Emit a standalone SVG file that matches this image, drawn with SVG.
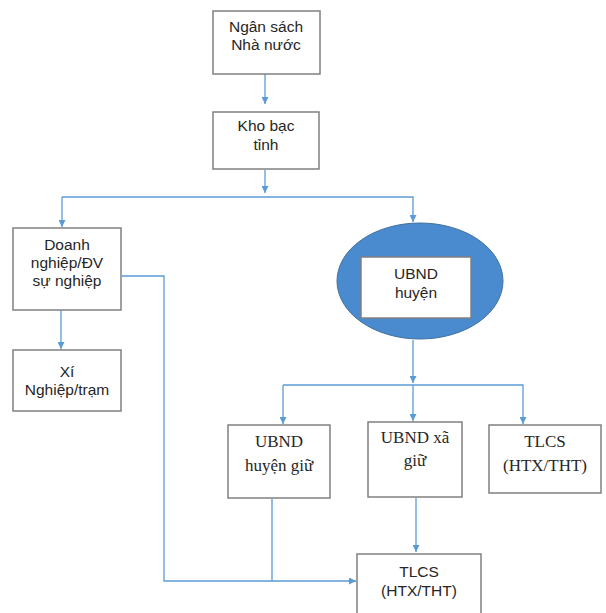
<svg xmlns="http://www.w3.org/2000/svg" width="606" height="613" viewBox="0 0 606 613">
<defs>
<style>
.box{fill:#fff;stroke:#808080;stroke-width:1.5}
.ln{fill:none;stroke:#5b9bd5;stroke-width:1.3}
.sans{font-family:"Liberation Sans",Arial,sans-serif;font-size:15.5px;fill:#262626;text-anchor:middle}
.serif{font-family:"Liberation Serif","Times New Roman",serif;font-size:17px;fill:#262626;text-anchor:middle}
</style>
<marker id="ah" viewBox="0 0 10 10" refX="10" refY="5" markerWidth="7" markerHeight="7" markerUnits="userSpaceOnUse" orient="auto">
<path d="M0,0 L10,5 L0,10 z" fill="#5b9bd5"/>
</marker>
</defs>
<rect width="606" height="613" fill="#fff"/>
<g id="connectors">
<line class="ln" x1="265" y1="74" x2="265" y2="104" marker-end="url(#ah)"/>
<line class="ln" x1="265" y1="170" x2="265" y2="193" marker-end="url(#ah)"/>
<polyline class="ln" points="62,197 413,197 413,222" marker-end="url(#ah)"/>
<line class="ln" x1="62" y1="197" x2="62" y2="227" marker-end="url(#ah)"/>
<line class="ln" x1="61" y1="310" x2="61" y2="349" marker-end="url(#ah)"/>
<polyline class="ln" points="122,276 164,276 164,581 356,581" marker-end="url(#ah)"/>
<line class="ln" x1="272" y1="499" x2="272" y2="581"/>
<line class="ln" x1="413" y1="340" x2="413" y2="383" marker-end="url(#ah)"/>
<polyline class="ln" points="283,385 523,385 523,424" marker-end="url(#ah)"/>
<line class="ln" x1="283" y1="385" x2="283" y2="424" marker-end="url(#ah)"/>
<line class="ln" x1="413" y1="385" x2="413" y2="421" marker-end="url(#ah)"/>
<line class="ln" x1="416" y1="498" x2="416" y2="552" marker-end="url(#ah)"/>
</g>
<g id="n-ngansach">
<rect class="box" x="213" y="11" width="107" height="63"/>
<text class="sans" x="266" y="32">Ngân sách</text>
<text class="sans" x="266" y="50">Nhà nước</text>
</g>
<g id="n-khobac">
<rect class="box" x="213" y="112" width="106" height="57"/>
<text class="sans" x="266" y="131">Kho bạc</text>
<text class="sans" x="266" y="150">tỉnh</text>
</g>
<g id="n-doanhnghiep">
<rect class="box" x="13" y="228" width="108" height="82"/>
<text class="sans" x="67" y="250">Doanh</text>
<text class="sans" x="67" y="268">nghiệp/ĐV</text>
<text class="sans" x="67" y="286">sự nghiệp</text>
</g>
<g id="n-xinghiep">
<rect class="box" x="13" y="350" width="108" height="61"/>
<text class="sans" x="67" y="377">Xí</text>
<text class="sans" x="67" y="395">Nghiệp/trạm</text>
</g>
<g id="n-ubndhuyen">
<ellipse cx="420" cy="281" rx="83" ry="58" fill="#4a8bd0" stroke="#41719c" stroke-width="1"/>
<rect class="box" x="361" y="257" width="110" height="61"/>
<text class="sans" x="416" y="279">UBND</text>
<text class="sans" x="416" y="298">huyện</text>
</g>
<g id="n-huyengiu">
<rect class="box" x="228" y="425" width="102" height="73"/>
<text class="serif" x="279" y="447">UBND</text>
<text class="serif" x="279" y="471">huyện giữ</text>
</g>
<g id="n-xagiu">
<rect class="box" x="368" y="422" width="94" height="75"/>
<text class="serif" x="415" y="443">UBND xã</text>
<text class="serif" x="415" y="466">giữ</text>
</g>
<g id="n-tlcs1">
<rect class="box" x="489" y="425" width="112" height="68"/>
<text class="serif" x="545" y="447">TLCS</text>
<text class="serif" x="545" y="471">(HTX/THT)</text>
</g>
<g id="n-tlcs2">
<rect class="box" x="357" y="554" width="124" height="65"/>
<text class="sans" x="419" y="577">TLCS</text>
<text class="sans" x="419" y="596">(HTX/THT)</text>
</g>
</svg>
